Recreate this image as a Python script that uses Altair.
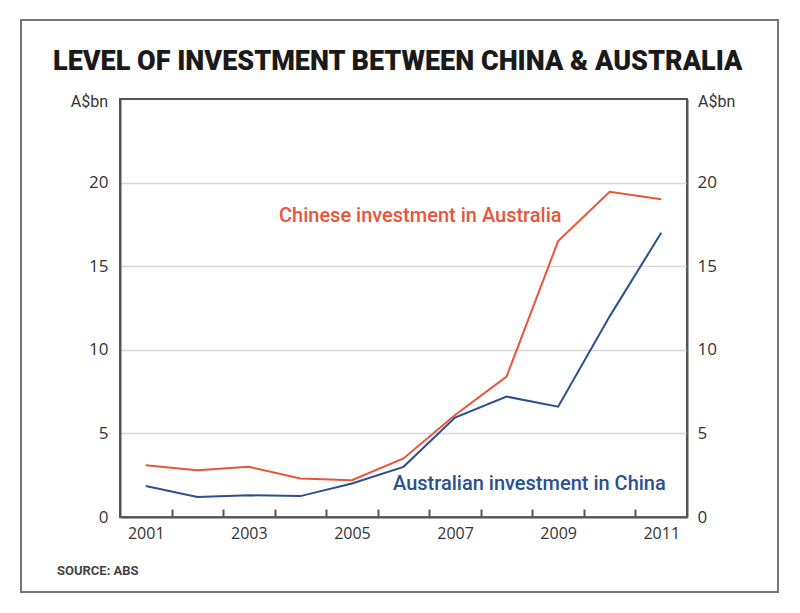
import altair as alt
import pandas as pd

# ---- data ----
years = [2001, 2002, 2003, 2004, 2005, 2006, 2007, 2008, 2009, 2010, 2011]
chinese_inv = [3.1, 2.8, 3.0, 2.3, 2.2, 3.5, 6.1, 8.4, 16.5, 19.45, 19.0]
australian_inv = [1.85, 1.2, 1.3, 1.25, 2.0, 3.0, 5.95, 7.2, 6.6, 12.0, 17.0]
series_names = ["Chinese investment in Australia", "Australian investment in China"]
series_colors = ["#e8553a", "#2b4f8f"]
year_labels = [2001, 2003, 2005, 2007, 2009, 2011]
y_ticks = [0, 5, 10, 15, 20]
minor_ticks = [2001.5, 2002.5, 2003.5, 2004.5, 2005.5, 2006.5, 2007.5, 2008.5, 2009.5, 2010.5]
title_text = "LEVEL OF INVESTMENT BETWEEN CHINA & AUSTRALIA"
unit_text = "A$bn"
source_text = "SOURCE: ABS"

W, H = 567, 418

df = pd.DataFrame({
    "year": years * 2,
    "value": chinese_inv + australian_inv,
    "series": [series_names[0]] * len(years) + [series_names[1]] * len(years),
})

xs = alt.Scale(domain=[2000.5, 2011.5], nice=False, zero=False)
ys = alt.Scale(domain=[0, 25], nice=False)
LABEL_FONT = "Open Sans"
LABEL_COLOR = "#333333"

x_axis = alt.Axis(
    values=year_labels, format="d", ticks=False, grid=False, title=None,
    labelFont=LABEL_FONT, labelFontSize=16, labelColor=LABEL_COLOR, labelPadding=8,
    domainColor="#555555", domainWidth=2)

# second x axis, shifted up into the plot so its ticks point inward
tick_axis = alt.Axis(
    values=minor_ticks, orient="bottom", offset=-8, labels=False, domain=False,
    ticks=True, tickSize=8, tickWidth=2, tickColor="#555555", grid=False, title=None)

color_enc = alt.Color("series:N", scale=alt.Scale(domain=series_names, range=series_colors), legend=None)

lines = alt.Chart(df).mark_line(strokeWidth=2).encode(
    x=alt.X("year:Q", scale=xs, axis=x_axis),
    y=alt.Y("value:Q", scale=ys, axis=alt.Axis(
        orient="left", values=y_ticks, grid=True, gridColor="#d6d6d6", gridWidth=1.5,
        ticks=False, title=None, labelFont=LABEL_FONT, labelFontSize=17,
        labelColor=LABEL_COLOR, labelPadding=12, domainColor="#555555", domainWidth=2)),
    color=color_enc,
)

right_axis = alt.Chart(df).mark_line(strokeOpacity=0).encode(
    x=alt.X("year:Q", scale=xs, axis=None),
    y=alt.Y("value:Q", scale=ys, axis=alt.Axis(
        orient="right", values=y_ticks, grid=False, ticks=False, title=None,
        labelFont=LABEL_FONT, labelFontSize=17, labelColor=LABEL_COLOR,
        labelPadding=10, domainColor="#555555", domainWidth=2)),
)

tick_df = pd.DataFrame({"t": minor_ticks})
ticks = alt.Chart(tick_df).mark_point(opacity=0).encode(
    x=alt.X("t:Q", scale=xs, axis=tick_axis),
    y=alt.value(H),
)

def label(text, x, y, color, size, font, weight="normal", align="left"):
    return alt.Chart(pd.DataFrame({"t": [text]})).mark_text(
        align=align, baseline="alphabetic", font=font, fontSize=size,
        fontWeight=weight, color=color,
    ).encode(x=alt.value(x), y=alt.value(y), text="t:N")

lab_cn = label(series_names[0], 159, 123, series_colors[0], 20, "Roboto", 500)
lab_au = label(series_names[1], 273, 391, series_colors[1], 20, "Roboto", 500)
title = label(title_text, -67, -29, "#1a1a1a", 27, "Roboto", 900)
unit_l = label(unit_text, -12, 8, LABEL_COLOR, 16, "Roboto", "normal", "right")
unit_r = label(unit_text, 578, 8, LABEL_COLOR, 16, "Roboto", "normal", "left")
source = label(source_text, -63, 476, "#444444", 13, "Roboto", "bold")

frame = alt.Chart(pd.DataFrame({"a": [0]})).mark_rect(
    fill=None, stroke="#777777", strokeWidth=2
).encode(x=alt.value(-99), x2=alt.value(658), y=alt.value(-79), y2=alt.value(493))

chart = alt.layer(
    frame, lines, right_axis, ticks, lab_cn, lab_au, title, unit_l, unit_r, source
).resolve_scale(y="independent").resolve_axis(x="independent").properties(
    width=W, height=H,
    autosize=alt.AutoSizeParams(type="none"),
    padding={"left": 120, "top": 99, "right": 113, "bottom": 96},
    background="white",
).configure_view(stroke="#555555", strokeWidth=2)

chart.save("out.html", embed_options={"renderer": "svg", "actions": False})
